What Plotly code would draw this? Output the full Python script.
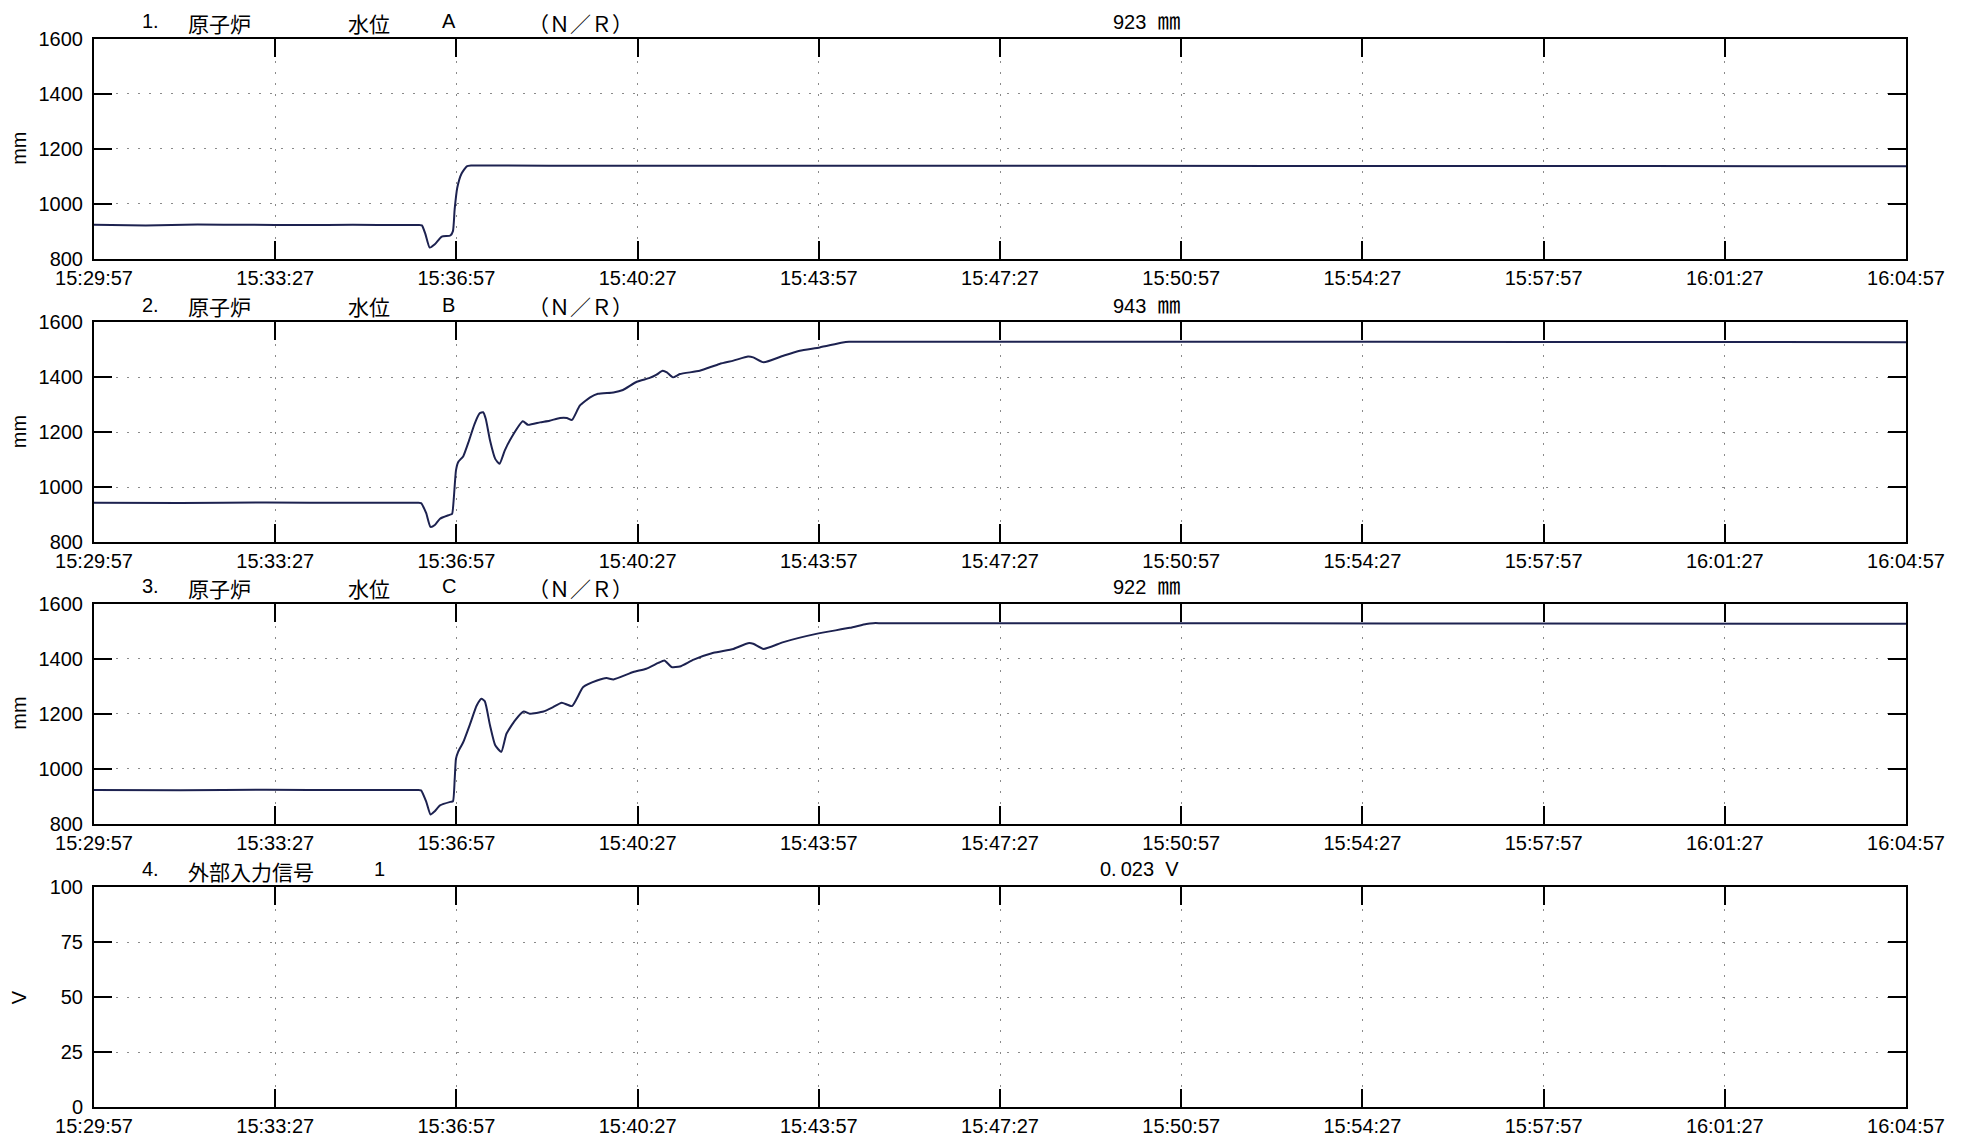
import pandas as pd
import plotly.graph_objects as go

# ---------------- data ----------------
BASE = pd.Timestamp("2011-03-11 15:29:57")
END_SECONDS = 2100
TICK_STEP_SECONDS = 210
x_tick_labels = ["15:29:57", "15:33:27", "15:36:57", "15:40:27", "15:43:57", "15:47:27",
                 "15:50:57", "15:54:27", "15:57:57", "16:01:27", "16:04:57"]

# seconds after 15:29:57
t_a = [0, 60, 120, 180, 240, 300, 360, 376, 380, 384, 389, 395, 403, 413, 416, 418, 421, 426, 432, 437, 445,
       600, 1200, 1800, 2100]
v_a = [923, 921, 924, 923, 922, 923, 922, 922, 921, 890, 840, 852, 880, 884, 900, 980, 1058, 1110, 1136, 1139, 1139,
       1138, 1138, 1137, 1136]

t_b = [0, 100, 200, 300, 375, 379, 385, 390, 395, 401, 412, 415, 417, 419.5, 422, 428, 434, 441, 447, 451, 454,
       459, 465, 470, 476, 484, 497, 503, 517, 528, 540, 548, 554, 563, 575, 584, 602, 613, 629, 644,
       652, 659, 664, 671, 679, 702, 725, 741, 758, 764, 776, 799, 818, 841, 866, 875, 885, 1200, 1800, 2100]
v_b = [943, 942, 944, 943, 943, 942, 905, 855, 862, 885, 899, 903, 960, 1061, 1091, 1113, 1164, 1230, 1269, 1273, 1249,
       1170, 1103, 1085, 1133, 1182, 1240, 1227, 1236, 1242, 1252, 1252, 1245, 1297, 1327, 1340, 1345, 1354, 1384, 1398,
       1410, 1424, 1418, 1400, 1412, 1424, 1449, 1461, 1476, 1473, 1455, 1479, 1497, 1509, 1526, 1530, 1530, 1530, 1529,
       1528]

t_c = [0, 100, 200, 300, 375, 379, 385, 390, 395, 401, 413, 416, 418, 419.5, 422, 428, 436, 443.5, 449, 453, 459,
       465, 472, 478, 488, 498, 505, 521, 532, 542, 554, 567, 583, 594, 602, 625, 640, 654, 661, 669.5,
       679, 695, 718, 741, 758, 764, 776, 799, 837, 876, 895, 903, 913, 1500, 2100]
v_c = [922, 921, 923, 922, 922, 921, 880, 833, 845, 866, 879, 881, 960, 1036, 1061, 1097, 1164, 1230, 1255, 1245, 1157,
       1085, 1061, 1127, 1176, 1208, 1200, 1208, 1224, 1240, 1228, 1297, 1321, 1330, 1325, 1352, 1364, 1385, 1394, 1370,
       1372, 1397, 1422, 1436, 1457, 1455, 1436, 1461, 1491, 1513, 1527, 1530, 1530, 1529, 1528]

mm_ticks = [800, 1000, 1200, 1400, 1600]
v_ticks = [0, 25, 50, 75, 100]

title_nums = ["1.", "2.", "3.", "4."]
title_names = ["原子炉", "原子炉", "原子炉", "外部入力信号"]
title_items = ["水位", "水位", "水位", ""]
title_chans = ["A", "B", "C", "1"]
title_ranges = ["（Ｎ／Ｒ）", "（Ｎ／Ｒ）", "（Ｎ／Ｒ）", ""]
value_numbers = ["923", "943", "922", "0.\u2009023"]
value_units = ["㎜", "㎜", "㎜", "V"]
unit_labels = ["mm", "mm", "mm", "V"]

# ---------------- layout geometry ----------------
W, H = 1969, 1141
OFF = 8  # page body margin
ML, MT = 94 - OFF, 39 - OFF
PW, PH = 1812, 1070
MR, MB = W - ML - PW, H - MT - PH
PANEL_TOPS = [39, 323, 605, 889]
PANEL_H = 220


def px2x(px):
    return (px - OFF - ML) / PW


def px2y(py):
    return (MT + PH - (py - OFF)) / PH


def to_time(secs):
    return [BASE + pd.Timedelta(seconds=s) for s in secs]


tick_times = to_time(range(0, END_SECONDS + 1, TICK_STEP_SECONDS))
x_range = [BASE, BASE + pd.Timedelta(seconds=END_SECONDS)]

LINE_COLOR = "#1d2250"
TICK_FONT = dict(family="Liberation Sans, Arial, sans-serif", size=20, color="black")

fig = go.Figure()
series = [(t_a, v_a), (t_b, v_b), (t_c, v_c)]
for i, (t, v) in enumerate(series):
    fig.add_trace(go.Scatter(x=to_time(t), y=v, mode="lines",
                             line=dict(color=LINE_COLOR, width=2, shape="spline", smoothing=0.5),
                             xaxis=f"x{i + 1}", yaxis=f"y{i + 1}", showlegend=False,
                             hoverinfo="skip"))
# empty fourth panel (keeps axes)
fig.add_trace(go.Scatter(x=[x_range[0]], y=[None], mode="lines", xaxis="x4", yaxis="y4",
                         showlegend=False, hoverinfo="skip"))

common = dict(ticks="inside", ticklen=18, tickwidth=2, tickcolor="black", mirror="allticks",
              showline=True, linewidth=2, linecolor="black", showgrid=True,
              gridcolor="#8a8a8a", gridwidth=1, griddash="2px,9px", zeroline=False,
              tickfont=TICK_FONT, fixedrange=True)

layout = {}
for i in range(4):
    top = PANEL_TOPS[i]
    dom = [px2y(top + PANEL_H), px2y(top)]
    layout[f"xaxis{i + 1}"] = dict(domain=[0, 1], anchor=f"y{i + 1}", type="date", range=x_range,
                                   tickvals=tick_times, ticktext=x_tick_labels, **common)
    if i < 3:
        ydef = dict(range=[800, 1600], tickvals=mm_ticks, ticktext=[str(v) for v in mm_ticks])
    else:
        ydef = dict(range=[0, 100], tickvals=v_ticks, ticktext=[str(v) for v in v_ticks])
    layout[f"yaxis{i + 1}"] = dict(domain=dom, anchor=f"x{i + 1}", ticklabelstandoff=5, **ydef, **common)

annotations = []
LAT = "Liberation Sans, Noto Sans CJK JP, sans-serif"
CJK = "Noto Sans CJK JP, sans-serif"
for i in range(4):
    top = PANEL_TOPS[i]
    yl = px2y(top - 18)   # latin text centre
    yj = px2y(top - 16)   # CJK text centre
    pieces = [(140, title_nums[i], LAT, 20, yl), (186, title_names[i], CJK, 21, yj),
              (346, title_items[i], CJK, 21, yj),
              (440 if i < 3 else 372, title_chans[i], LAT, 20, yl),
              (526, title_ranges[i], CJK, 21, yj)]
    for px, txt, fam, sz, yy in pieces:
        if not txt:
            continue
        annotations.append(dict(x=px2x(px), y=yy, xref="paper", yref="paper", text=txt,
                                showarrow=False, xanchor="left", yanchor="middle",
                                font=dict(family=fam, size=sz, color="black")))
    unit_html = (f"<span style='font-size:23px'>{value_units[i]}</span>" if i < 3 else value_units[i])
    annotations.append(dict(x=px2x(1146 if i < 3 else 1139), y=yl, xref="paper", yref="paper",
                            text=f"{value_numbers[i]}\u00a0\u00a0{unit_html}", showarrow=False,
                            xanchor="center", yanchor="middle",
                            font=dict(family=LAT, size=20, color="black")))
    annotations.append(dict(x=px2x(19), y=px2y(top + PANEL_H / 2), xref="paper", yref="paper",
                            text=unit_labels[i], showarrow=False, textangle=-90,
                            xanchor="center", yanchor="middle",
                            font=dict(family=LAT, size=20, color="black")))

fig.update_layout(width=W, height=H, margin=dict(l=ML, r=MR, t=MT, b=MB, pad=0),
                  paper_bgcolor="white", plot_bgcolor="white", annotations=annotations,
                  **layout)

fig.write_html("out.html", config={"displayModeBar": False})
